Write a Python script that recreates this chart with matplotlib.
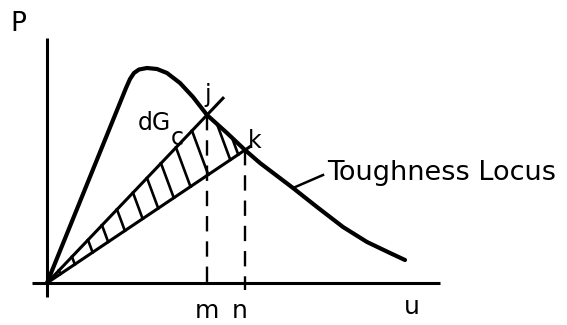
import numpy as np
import matplotlib
matplotlib.use("Agg")
import matplotlib.pyplot as plt

# Toughness locus P(u)
locus_u = [0, 79, 83, 87, 92, 100, 110, 120, 133, 146, 160, 180, 198, 213, 246, 270, 296, 320, 343, 358]
locus_p = [0, 195, 204, 210, 213.5, 215, 214, 210, 200, 186, 168, 150, 133, 120, 95, 76, 56, 41, 30, 23]

# Points j and k on the locus, and the secant ends
point_j = (160, 168)
point_k = (198, 133)
secant_j_end = 176
secant_k_end = 203

# Hatch start positions along the upper boundary of dG_c
hatch_u = [12, 25, 41, 55, 70, 86, 100, 114, 129, 145, 170, 185]
hatch_slope = -2.7

fig = plt.figure(figsize=(5.67, 3.25), dpi=100)
ax = fig.add_axes([0, 0, 1, 1])
ax.set_xlim(-47, 520)
ax.set_ylim(-42, 283)
ax.axis("off")

ink = "black"
font = dict(family="DejaVu Sans", color=ink)

# Axes
ax.plot([0, 0], [-14, 245], color=ink, lw=2.2, solid_capstyle="butt")
ax.plot([-15, 393], [0, 0], color=ink, lw=2.2, solid_capstyle="butt")

# Locus
ax.plot(locus_u, locus_p, color=ink, lw=3.0, solid_capstyle="round", solid_joinstyle="round")

# Secants from the origin through j and k
sj = point_j[1] / point_j[0]
sk = point_k[1] / point_k[0]
ax.plot([0, secant_j_end], [0, sj * secant_j_end], color=ink, lw=2.2)
ax.plot([0, secant_k_end], [0, sk * secant_k_end], color=ink, lw=2.2)

# Hatching between the secants
for u0 in hatch_u:
    if u0 <= point_j[0]:
        p0 = sj * u0
    else:
        p0 = float(np.interp(u0, locus_u, locus_p))
    t = (p0 - sk * u0) / (sk - hatch_slope)
    ax.plot([u0, u0 + t], [p0, p0 + hatch_slope * t], color=ink, lw=1.9)

# Dashed drops to m and n
for (u0, p0) in (point_j, point_k):
    ax.plot([u0, u0], [p0, -7], color=ink, lw=1.7, linestyle=(0, (6.5, 4.2)))

# Labels
ax.text(-29, 259, "P", fontsize=19, ha="center", va="center", **font)
ax.text(161, 188, "j", fontsize=17, ha="center", va="center", **font)
ax.text(208, 142, "k", fontsize=17, ha="center", va="center", **font)
ax.text(107, 160, "dG", fontsize=17, ha="center", va="center", **font)
ax.text(130, 145, "c", fontsize=17, ha="center", va="center", **font)
ax.text(160, -28, "m", fontsize=18, ha="center", va="center", **font)
ax.text(193, -28, "n", fontsize=18, ha="center", va="center", **font)
ax.text(365, -24, "u", fontsize=18, ha="center", va="center", **font)

ax.plot([246, 276], [95, 108], color=ink, lw=1.8)
ax.text(280, 103, "Toughness Locus", fontsize=19.5, ha="left", va="baseline", **font)

fig.savefig("out.png", dpi=100)
